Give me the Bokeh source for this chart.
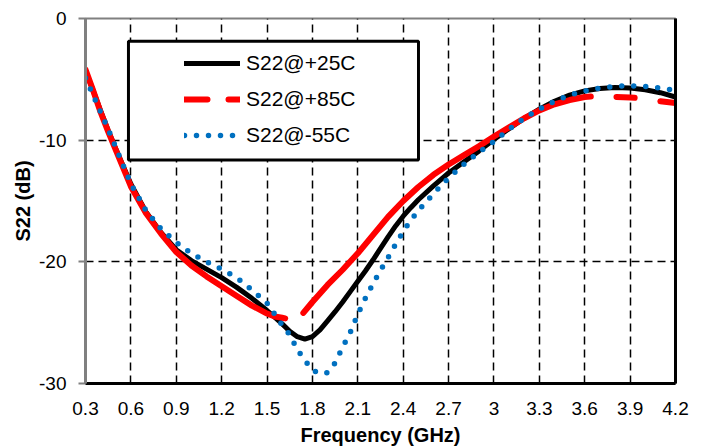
import numpy as np
from bokeh.plotting import figure
from bokeh.models import (Range1d, FixedTicker, LinearAxis, Legend, LegendItem,
                          BoxAnnotation, NumeralTickFormatter)
from bokeh.embed import file_html
from bokeh.resources import INLINE

# ---------------- data ----------------
freq = [0.3, 0.35, 0.4, 0.45, 0.5, 0.6, 0.7, 0.8, 0.9, 1.0, 1.1, 1.2, 1.3, 1.4,
        1.5, 1.55, 1.6, 1.65, 1.7, 1.75, 1.8, 1.85, 1.9, 1.95, 2.0, 2.05, 2.1,
        2.15, 2.2, 2.25, 2.3, 2.35, 2.4, 2.45, 2.5, 2.6, 2.7, 2.8, 2.9, 3.0,
        3.1, 3.2, 3.3, 3.4, 3.5, 3.6, 3.7, 3.8, 3.9, 4.0, 4.1, 4.2]

s22_p25 = [-4.3, -5.9, -7.6, -9.2, -10.7, -13.6, -15.9, -17.6, -19.0, -19.9,
           -20.6, -21.3, -22.1, -23.0, -24.0, -24.55, -25.1, -25.7, -26.15,
           -26.35, -26.15, -25.6, -24.85, -24.1, -23.3, -22.45, -21.6, -20.75,
           -19.85, -18.9, -17.95, -17.05, -16.25, -15.55, -14.9, -13.75, -12.7,
           -11.8, -10.9, -9.95, -9.05, -8.2, -7.45, -6.8, -6.3, -5.95, -5.75,
           -5.68, -5.72, -5.85, -6.1, -6.45]

s22_m55 = [-4.9, -6.3, -7.7, -9.1, -10.6, -13.6, -15.8, -17.3, -18.4, -19.3,
           -20.0, -20.6, -21.3, -22.3, -23.4, -24.3, -25.2, -26.0, -27.2,
           -28.1, -28.9, -29.2, -29.1, -28.3, -27.0, -25.8, -24.3, -23.0,
           -21.8, -20.7, -19.65, -18.55, -17.5, -16.6, -15.8, -14.4, -13.1,
           -12.0, -11.0, -10.1, -9.1, -8.2, -7.45, -6.8, -6.3, -5.95, -5.72,
           -5.58, -5.53, -5.58, -5.72, -5.9]

# +85C series; NaN marks the visible gaps of its long-dash line
freq_85 = [0.3, 0.35, 0.4, 0.45, 0.5, 0.6, 0.7, 0.8, 0.9, 1.0, 1.1, 1.2, 1.3,
           1.4, 1.5, 1.55, 1.6, 1.62, 1.68, 1.74, 1.8, 1.9, 2.0, 2.1, 2.2,
           2.3, 2.4, 2.5, 2.6, 2.7, 2.8, 2.9, 3.0, 3.1, 3.2, 3.3, 3.4, 3.5,
           3.6, 3.64, 3.72, 3.81, 3.9, 3.93, 4.0, 4.1, 4.2]
s22_p85 = [-4.2, -5.9, -7.7, -9.3, -10.8, -13.8, -16.0, -17.7, -19.2, -20.3,
           -21.2, -22.0, -22.8, -23.6, -24.25, -24.5, -24.6, -24.65, np.nan,
           -24.2, -23.3, -21.9, -20.65, -19.3, -17.8, -16.3, -15.0, -13.85,
           -12.85, -12.0, -11.25, -10.5, -9.7, -8.95, -8.2, -7.55, -7.05, -6.7,
           -6.45, -6.42, np.nan, -6.45, -6.5, -6.52, np.nan, -6.8, -6.95]

x_ticks = [0.3, 0.6, 0.9, 1.2, 1.5, 1.8, 2.1, 2.4, 2.7, 3.0, 3.3, 3.6, 3.9, 4.2]
x_tick_labels = ["0.3", "0.6", "0.9", "1.2", "1.5", "1.8", "2.1", "2.4", "2.7",
                 "3", "3.3", "3.6", "3.9", "4.2"]
y_ticks = [0, -10, -20, -30]
y_tick_labels = ["0", "-10", "-20", "-30"]

series_labels = ["S22@+25C", "S22@+85C", "S22@-55C"]

# ---------------- figure ----------------
FONT = "Liberation Sans"

p = figure(width=704, height=448, output_backend="svg", toolbar_location=None,
           x_range=Range1d(0.3, 4.2), y_range=Range1d(-30, 0),
           min_border_left=85, min_border_right=29, min_border_top=18,
           min_border_bottom=64)
p.background_fill_color = "white"
p.border_fill_color = "white"
p.outline_line_color = "#808080"
p.outline_line_width = 2

# grid
p.xgrid.ticker = FixedTicker(ticks=x_ticks[1:-1])
p.ygrid.ticker = FixedTicker(ticks=y_ticks[1:-1])
for g in (p.xgrid[0], p.ygrid[0]):
    g.grid_line_color = "black"
    g.grid_line_width = 1.5
    g.grid_line_dash = "8 5"

# x axis
xa = p.below[0]
xa.ticker = FixedTicker(ticks=x_ticks)
xa.formatter = NumeralTickFormatter(format="0.[0]")
xa.major_label_overrides = {t: l for t, l in zip(x_ticks, x_tick_labels)}
xa.axis_line_color = "black"
xa.axis_line_width = 3
xa.major_tick_line_color = None
xa.minor_tick_line_color = None
xa.major_tick_out = 0
xa.major_tick_in = 0
xa.major_label_standoff = 18
xa.major_label_text_font = FONT
xa.major_label_text_font_size = "19px"
xa.major_label_text_color = "black"
xa.axis_label = "Frequency (GHz)"
xa.axis_label_text_font = FONT
xa.axis_label_text_font_size = "20px"
xa.axis_label_text_font_style = "bold"
xa.axis_label_text_color = "black"
xa.axis_label_standoff = 6

# y axis
ya = p.left[0]
ya.ticker = FixedTicker(ticks=y_ticks)
ya.formatter = NumeralTickFormatter(format="0")
ya.major_label_overrides = {t: l for t, l in zip(y_ticks, y_tick_labels)}
ya.axis_line_color = "#808080"
ya.axis_line_width = 3
ya.major_tick_line_color = "#808080"
ya.major_tick_line_width = 2
ya.major_tick_out = 7
ya.major_tick_in = 0
ya.minor_tick_line_color = None
ya.major_label_standoff = 12
ya.major_label_text_font = FONT
ya.major_label_text_font_size = "19px"
ya.major_label_text_color = "black"
ya.axis_label = "S22 (dB)"
ya.axis_label_text_font = FONT
ya.axis_label_text_font_size = "20px"
ya.axis_label_text_font_style = "bold"
ya.axis_label_text_color = "black"
ya.axis_label_standoff = 2

# right frame edge (black)
ra = LinearAxis(ticker=FixedTicker(ticks=[]), axis_line_color="black",
                axis_line_width=3, major_tick_line_color=None,
                minor_tick_line_color=None, major_label_text_font_size="0px")
p.add_layout(ra, "right")

# ---------------- series ----------------
BLUE = "#0070C0"
RED = "#FF0000"

r_black = p.line(freq, s22_p25, line_color="black", line_width=5,
                 line_join="round", line_cap="round")
r_red = p.line(freq_85, s22_p85, line_color=RED, line_width=6,
               line_join="round", line_cap="round")
r_blue = p.line(freq, s22_m55, line_color=BLUE, line_width=5.5,
                line_dash="0 12", line_cap="round", line_join="round")
# key glyph for the legend (long dashes), not drawn in the plot area
r_red_key = p.line(freq_85, s22_p85, line_color=RED, line_width=6,
                   line_dash="23 21", line_cap="round", visible=False)

# legend frame box (layout, in axis units)
LEG_LEFT, LEG_RIGHT, LEG_TOP, LEG_BOTTOM = 0.584, 2.501, -1.86, -11.64
box = BoxAnnotation(left=LEG_LEFT, right=LEG_RIGHT, top=LEG_TOP, bottom=LEG_BOTTOM,
                    fill_color="white", fill_alpha=1.0, line_color="black",
                    line_alpha=1.0, line_width=3, level="annotation")
p.add_layout(box)

legend = Legend(items=[LegendItem(label=series_labels[0], renderers=[r_black]),
                       LegendItem(label=series_labels[1], renderers=[r_red_key]),
                       LegendItem(label=series_labels[2], renderers=[r_blue])],
                location=(99, 235), padding=0, margin=0, spacing=10,
                glyph_width=56, glyph_height=26, label_height=26,
                label_standoff=6, label_text_font=FONT,
                label_text_font_size="21px", label_text_color="black",
                border_line_alpha=0, background_fill_alpha=0,
                click_policy="none")
p.add_layout(legend)

open("out.html", "w").write(file_html(p, INLINE))
